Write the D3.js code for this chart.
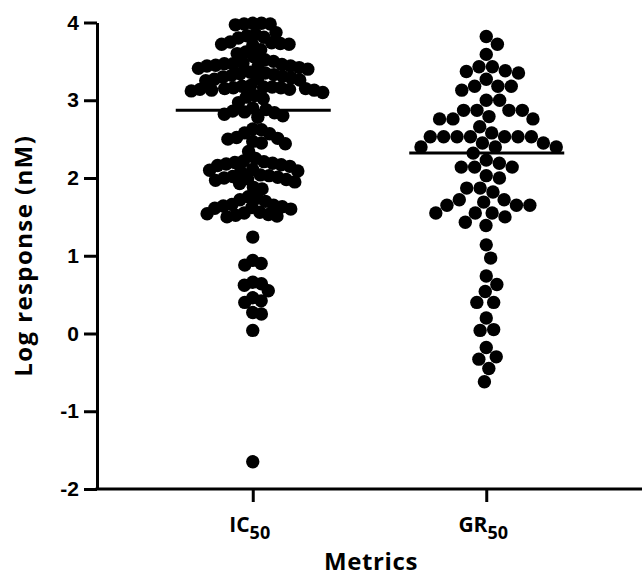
<!DOCTYPE html>
<html>
  <head>
    <meta charset="utf-8">
    <title>Log response by metric</title>
    <script src="https://cdn.jsdelivr.net/npm/d3@7"></script>
    <style>
      body { margin: 0; background: #fff; }
      svg { display: block; }
      .axis path, .axis line { stroke: #000; stroke-width: 3; }
      .label { font-family: "Open Sans", Lato, sans-serif; font-weight: bold; fill: #000; }
    </style>
  </head>
  <body>
    <svg id="chart" width="642" height="578"></svg>

    <script>
      // values (log10 nM)
      let metrics = ["IC50", "GR50"];
      let subLabels = [["IC", "50"], ["GR", "50"]];
      let icValues = [
        3.99, 3.98, 3.98, 3.97, 3.99,
        3.87, 3.85, 3.83, 3.81, 3.80,
        3.75, 3.74, 3.73, 3.72, 3.72, 3.71,
        3.65, 3.62, 3.60, 3.56, 3.52,
        3.50, 3.48, 3.47, 3.46, 3.45, 3.44, 3.43, 3.42, 3.41, 3.40, 3.44, 3.47,
        3.36, 3.35, 3.34, 3.33, 3.32, 3.31, 3.30, 3.29, 3.28, 3.27, 3.26, 3.25,
        3.19, 3.18, 3.17, 3.16, 3.15, 3.14, 3.13, 3.12, 3.15, 3.17, 3.14, 3.13, 3.16, 3.10,
        3.06, 3.04, 3.02, 2.97,
        2.90, 2.88, 2.86, 2.85, 2.84, 2.82, 2.80, 2.78,
        2.63, 2.62, 2.58, 2.57, 2.52, 2.51, 2.50, 2.47, 2.45, 2.44,
        2.34, 2.25,
        2.22, 2.21, 2.20, 2.19, 2.18, 2.17, 2.16, 2.15,
        2.11, 2.10, 2.09, 2.08,
        2.04, 2.03, 2.02, 2.01, 2.00, 1.99, 1.98, 1.97,
        1.95, 1.93, 1.88, 1.86,
        1.76, 1.74, 1.72, 1.70,
        1.66, 1.65, 1.64, 1.63, 1.62, 1.61, 1.60,
        1.56, 1.55, 1.54, 1.53, 1.52, 1.51, 1.50,
        1.24,
        0.94, 0.90, 0.88,
        0.66, 0.64, 0.62, 0.55, 0.46, 0.42, 0.40,
        0.27, 0.25,
        0.04,
        -1.65
      ];
      let grValues = [
        3.82, 3.72, 3.59, 3.43, 3.43, 3.38, 3.37, 3.35, 3.27,
        3.18, 3.18, 3.18, 3.13, 3.00, 3.00,
        2.87, 2.87, 2.87, 2.87, 2.79, 2.76, 2.76, 2.76, 2.66, 2.58,
        2.53, 2.53, 2.53, 2.53, 2.53, 2.53, 2.53,
        2.45, 2.45, 2.40, 2.40, 2.40, 2.32, 2.23, 2.19, 2.14, 2.14, 2.14,
        2.03, 2.00, 1.87, 1.87, 1.82, 1.72, 1.72, 1.69, 1.65, 1.65, 1.65,
        1.55, 1.55, 1.55, 1.50, 1.43, 1.39, 1.14, 0.97,
        0.74, 0.63, 0.54, 0.40, 0.40, 0.20, 0.05, 0.04,
        -0.18, -0.30, -0.33, -0.45, -0.62
      ];
      let medians = [2.87, 2.32];
      let yTicks = [-2, -1, 0, 1, 2, 3, 4];

      // page elements
      let svg = d3.select("#chart");
      let width = 642, height = 578;
      let margin = { top: 22.5, right: 0, bottom: 89, left: 97 };
      let r = 6.7;

      // scales
      let y = d3.scaleLinear()
        .domain([-2, 4])
        .range([height - margin.bottom, margin.top]);
      let x = d3.scalePoint()
        .domain(metrics)
        .range([margin.left, width - margin.right])
        .padding(0.667);

      // simple beeswarm: closest free offset to the centre, squeezed to a max half width
      function swarm(values, gap, maxHalf) {
        let pts = values.map(function(v) { return { v: v, py: y(v), dx: 0 }; });
        let order = pts.slice().sort(function(a, b) { return a.py - b.py; });
        let placed = [];
        order.forEach(function(p) {
          let cands = [0];
          placed.forEach(function(q) {
            let dy = p.py - q.py;
            if (Math.abs(dy) < gap) {
              let w = Math.sqrt(gap * gap - dy * dy);
              cands.push(q.dx + w, q.dx - w);
            }
          });
          cands.sort(function(a, b) { return Math.abs(a) - Math.abs(b); });
          for (let c of cands) {
            let free = placed.every(function(q) {
              return (q.dx - c) * (q.dx - c) + (q.py - p.py) * (q.py - p.py) >= gap * gap - 1e-6;
            });
            if (free) { p.dx = c; break; }
          }
          placed.push(p);
        });
        let m = d3.max(pts, function(p) { return Math.abs(p.dx); });
        if (m > maxHalf) pts.forEach(function(p) { p.dx *= maxHalf / m; });
        return pts;
      }

      let groups = [
        { key: "IC50", pts: swarm(icValues, 11.5, 70) },
        { key: "GR50", pts: swarm(grValues, 14, 70) }
      ];

      // dots
      groups.forEach(function(g) {
        svg.append("g")
          .selectAll("circle")
            .data(g.pts)
          .enter().append("circle")
            .attr("cx", function(d) { return x(g.key) + d.dx; })
            .attr("cy", function(d) { return d.py; })
            .attr("r", r)
            .attr("fill", "#000");
      });

      // median lines
      svg.append("g")
        .selectAll("line")
          .data(metrics)
        .enter().append("line")
          .attr("x1", function(d) { return x(d) - 77; })
          .attr("x2", function(d) { return x(d) + 78; })
          .attr("y1", function(d, i) { return y(medians[i]); })
          .attr("y2", function(d, i) { return y(medians[i]); })
          .attr("stroke", "#000")
          .attr("stroke-width", 3);

      // y axis
      let yAxis = svg.append("g")
        .attr("class", "axis")
        .attr("transform", "translate(" + margin.left + ",0)")
        .call(d3.axisLeft(y)
          .tickValues(yTicks)
          .tickSize(13)
          .tickSizeOuter(0)
          .tickPadding(5)
          .tickFormat(function(d) { return String(d); }));
      yAxis.selectAll(".tick text")
        .attr("font-family", "'Liberation Sans', Arial, sans-serif")
        .attr("font-weight", "bold")
        .attr("font-size", 21)
        .attr("fill", "#000");

      // x axis
      let xAxis = svg.append("g")
        .attr("class", "axis")
        .attr("transform", "translate(0," + y(-2) + ")")
        .call(d3.axisBottom(x).tickSize(13).tickSizeOuter(0).tickFormat(""));
      xAxis.select(".domain").attr("d", "M" + (margin.left - 1.5) + ",0H" + width);

      // category labels with subscripts
      svg.append("g")
        .selectAll("text")
          .data(metrics)
        .enter().append("text")
          .attr("class", "label")
          .attr("x", function(d) { return x(d) - 3; })
          .attr("y", 532)
          .attr("text-anchor", "middle")
          .each(function(d, i) {
            let t = d3.select(this);
            t.append("tspan").style("font-size", "21px").text(subLabels[i][0]);
            t.append("tspan").style("font-size", "18px").attr("dy", 7).text(subLabels[i][1]);
          });

      // axis titles
      svg.append("text")
        .attr("class", "label")
        .attr("x", 371)
        .attr("y", 570)
        .attr("text-anchor", "middle")
        .style("font-size", "24px")
        .style("letter-spacing", "0.6px")
        .text("Metrics");
      svg.append("text")
        .attr("class", "label")
        .attr("transform", "translate(32," + y(1) + ") rotate(-90)")
        .attr("text-anchor", "middle")
        .style("font-size", "24px")
        .style("letter-spacing", "1.4px")
        .text("Log response (nM)");
    </script>
  </body>
</html>
